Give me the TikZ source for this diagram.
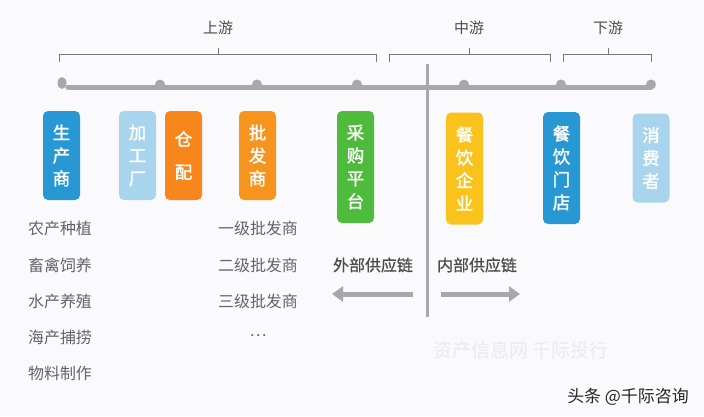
\documentclass[tikz,border=0pt]{standalone}
\usepackage{fontspec}
\setmainfont{Noto Sans CJK SC}
\newfontfamily\boxfont{Noto Sans CJK SC}[FakeBold=1.6]
\newfontfamily\midfont{Noto Sans CJK SC}[FakeBold=0.8]
\usetikzlibrary{arrows.meta}
\definecolor{bgc}{RGB}{250,250,252}
\definecolor{cblue}{RGB}{40,152,212}
\definecolor{clight}{RGB}{168,212,238}
\definecolor{corange}{RGB}{247,134,28}
\definecolor{corange2}{RGB}{247,148,30}
\definecolor{cgreen}{RGB}{78,187,60}
\definecolor{cyellow}{RGB}{249,194,28}
\definecolor{linegray}{RGB}{168,168,172}
\definecolor{brgray}{RGB}{120,120,124}
\definecolor{txtgray}{RGB}{100,100,104}
\definecolor{wmgray}{RGB}{234,234,237}
\tikzset{
  x=1bp, y=-1bp,
  stage/.style={rounded corners=5bp, text=white, align=center, inner sep=0pt,
    minimum width=37bp, font=\boxfont\fontsize{17.5}{23}\selectfont},
  short/.style={stage, minimum height=89bp},
  tall/.style={stage, minimum height=112bp},
  bracket/.style={draw=brgray, line width=0.8bp},
  blabel/.style={text=black!70, font=\fontsize{15}{15}\selectfont},
  listtxt/.style={text=txtgray, font=\fontsize{16}{16}\selectfont},
  chainlbl/.style={text=black!70, font=\midfont\fontsize{16}{16}\selectfont},
  bigarrow/.style={draw=linegray, line width=5bp, -{Triangle[length=11bp,width=15bp]}},
}
\begin{document}
\begin{tikzpicture}
\fill[bgc] (0,0) rectangle (704,416);
\useasboundingbox (0,0) rectangle (704,416);

% brackets
\draw[bracket] (59,62) -- (59,54) -- (376,54) -- (376,62);
\draw[bracket] (218,54) -- (218,48);
\draw[bracket] (389,62) -- (389,54) -- (550,54) -- (550,62);
\draw[bracket] (469,54) -- (469,48);
\draw[bracket] (563,62) -- (563,54) -- (651,54) -- (651,62);
\draw[bracket] (608,54) -- (608,48);
\node[blabel] (up) at (218,28) {上游};
\node[blabel] (mid) at (469,28) {中游};
\node[blabel] (down) at (608,28) {下游};

% main line and dots
\draw[linegray, line width=5bp, line cap=round] (68,87) -- (651,87);
\fill[linegray] (62,83) ellipse [x radius=4.5bp, y radius=6bp];
\foreach \xx in {160,257,357,464,561,651}
  \fill[linegray] (\xx,84.5) circle [radius=5bp];

% divider
\draw[linegray, line width=3bp] (427,64) -- (427,317);

% stage boxes
\node[short, fill=cblue] (prod) at (61.5,155.5) {生\\产\\商};
\node[short, fill=clight] (proc) at (137.5,155.5) {加\\工\\厂};
\node[short, fill=corange] (ware) at (183.5,155.5) {仓\\[10bp]配};
\node[short, fill=corange2] (whole) at (257.5,155.5) {批\\发\\商};
\node[tall, fill=cgreen] (buy) at (355.5,167) {采\\购\\平\\台};
\node[tall, fill=cyellow] (ent) at (464.5,168.5) {餐\\饮\\企\\业};
\node[tall, fill=cblue] (store) at (561.5,168) {餐\\饮\\门\\店};
\node[short, fill=clight] (cons) at (651,158) {消\\费\\者};

% lists
\node[listtxt] (l1) at (60,228) {农产种植};
\node[listtxt] (l2) at (60,265) {畜禽饲养};
\node[listtxt] (l3) at (60,301) {水产养殖};
\node[listtxt] (l4) at (60,337) {海产捕捞};
\node[listtxt] (l5) at (60,373) {物料制作};
\node[listtxt] (w1) at (258,228) {一级批发商};
\node[listtxt] (w2) at (258,265) {二级批发商};
\node[listtxt] (w3) at (258,301) {三级批发商};
\node[listtxt] (w4) at (258,336) {…};

% supply chain labels and arrows
\node[chainlbl] (ext) at (373,265) {外部供应链};
\node[chainlbl] (int) at (477,265) {内部供应链};
\coordinate (ea) at (413,294);
\coordinate (eb) at (332,294);
\coordinate (ia) at (441,294);
\coordinate (ib) at (520,294);
\draw[bigarrow] (ea) -- (eb);
\draw[bigarrow] (ia) -- (ib);

% watermarks
\node[text=wmgray, font=\fontsize{19}{19}\selectfont] (wm) at (521,350) {资产信息网\ 千际投行};
\node[text=black!85, font=\fontsize{17}{17}\selectfont] (tt) at (628,397) {头条 @千际咨询};
\end{tikzpicture}
\end{document}
